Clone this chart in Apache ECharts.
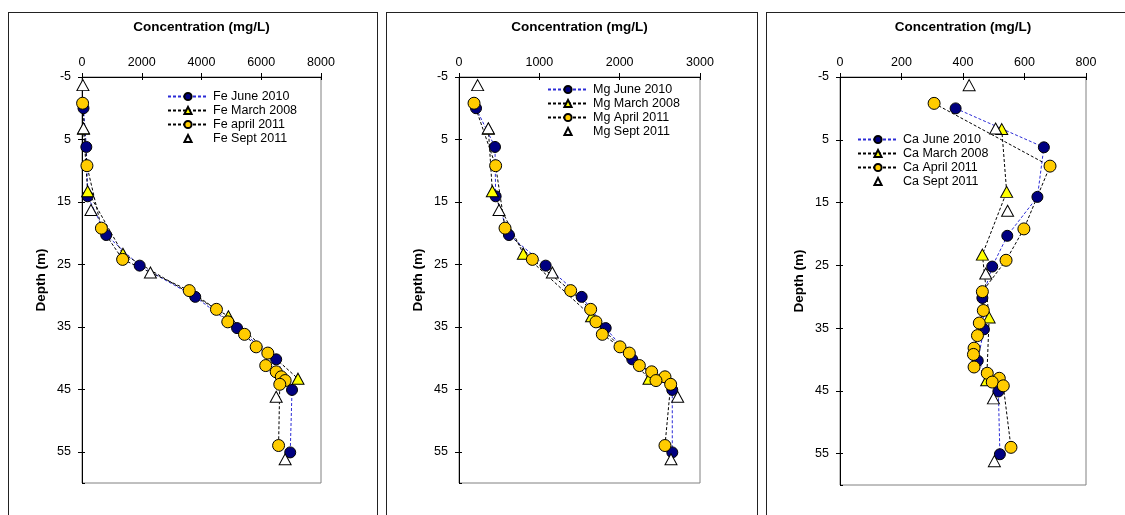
<!DOCTYPE html>
<html>
<head>
<meta charset="utf-8">
<script src="https://cdn.jsdelivr.net/npm/echarts@6/dist/echarts.min.js"></script>
<style>
  html, body { margin: 0; padding: 0; background: #fff; overflow: hidden; }
  #main { position: absolute; left: 0; top: 0; width: 1125px; height: 515px; }
  .frame { position: absolute; top: 12px; height: 530px; border: 1px solid #222; }
</style>
</head>
<body>
<div class="frame" style="left:8px;width:368px"></div>
<div class="frame" style="left:386px;width:370px"></div>
<div class="frame" style="left:766px;width:380px"></div>
<div id="main"></div>
<script>
// depths (m) for each sampling campaign
const depthJune = [0, 6.2, 14.1, 20.3, 25.2, 30.2, 35.2, 40.2, 45.1, 55.1];
const depthMarch = [3.3, 13.3, 23.3, 33.3, 43.3];
const depthApril = [-0.8, 9.2, 19.2, 24.2, 29.2, 32.2, 34.2, 36.2, 38.2, 39.2, 41.2, 42.2, 43.0, 43.6, 44.2, 54.0];
const depthSept = [-3.7, 3.2, 16.3, 26.3, 46.2, 56.2];

// Fe (mg/L)
const feJune = [50, 145, 190, 810, 1930, 3790, 5190, 6500, 7030, 6970];
const feMarch = [50, 190, 1370, 4900, 7230];
const feApril = [20, 165, 650, 1360, 3590, 4500, 4880, 5440, 5830, 6220, 6150, 6500, 6670, 6800, 6620, 6580];
const feSept = [30, 50, 300, 2290, 6500, 6800];

// Mg (mg/L)
const mgJune = [212, 448, 456, 622, 1079, 1527, 1826, 2157, 2655, 2655];
const mgMarch = [365, 415, 801, 1650, 2365];
const mgApril = [187, 456, 573, 913, 1390, 1639, 1705, 1784, 2004, 2120, 2245, 2398, 2564, 2452, 2635, 2564];
const mgSept = [232, 365, 498, 1162, 2722, 2639];

// Ca (mg/L)
const caJune = [376, 663, 642, 544, 495, 463, 468, 448, 515, 520];
const caMarch = [526, 542, 463, 485, 477];
const caApril = [306, 683, 598, 540, 463, 466, 453, 447, 436, 434, 436, 479, 518, 495, 531, 556];
const caSept = [420, 506, 545, 474, 499, 502];

const xMax = [8000, 3000, 800];
const xStep = [2000, 1000, 200];
const depthMin = -5, depthMax = 60, depthStep = 10;

const FONT = "'Liberation Sans', Arial, sans-serif";

function pairs(xs, ys) {
  return xs.map((v, i) => [v, ys[i]]);
}

let myChart = echarts.init(document.getElementById("main"));

const grids = [
  { left: 82, top: 77, width: 239, height: 406 },
  { left: 459, top: 77, width: 241, height: 406 },
  { left: 840, top: 77, width: 246, height: 408 },
];
const legendPos = [
  { left: 167, top: 90 },
  { left: 547, top: 83 },
  { left: 857, top: 133 },
];
const panels = [
  { el: "Fe", june: feJune, march: feMarch, april: feApril, sept: feSept, aprilName: "Fe april 2011" },
  { el: "Mg", june: mgJune, march: mgMarch, april: mgApril, sept: mgSept, aprilName: "Mg April 2011" },
  { el: "Ca", june: caJune, march: caMarch, april: caApril, sept: caSept, aprilName: "Ca April 2011" },
];

let xAxis = [], yAxis = [], series = [], legend = [];

panels.forEach((p, i) => {
  xAxis.push({
    gridIndex: i,
    type: "value",
    position: "top",
    min: 0,
    max: xMax[i],
    interval: xStep[i],
    name: "Concentration (mg/L)",
    nameLocation: "middle",
    nameGap: 43,
    nameTextStyle: { fontFamily: FONT, fontWeight: "bold", fontSize: 13.5, color: "#000" },
    axisLine: { show: true, onZero: false, lineStyle: { color: "#000", width: 1 } },
    axisTick: { show: true, length: 4, lineStyle: { color: "#000" } },
    axisLabel: { fontFamily: FONT, fontSize: 12.5, color: "#000", margin: 8, formatter: (v) => String(v) },
    splitLine: { show: false },
  });
  yAxis.push({
    gridIndex: i,
    type: "value",
    inverse: true,
    min: depthMin,
    max: depthMax,
    interval: depthStep,
    name: "Depth (m)",
    nameLocation: "middle",
    nameGap: 34,
    nameTextStyle: { fontFamily: FONT, fontWeight: "bold", fontSize: 13.5, color: "#000" },
    axisLine: { show: true, onZero: false, lineStyle: { color: "#000", width: 1 } },
    axisTick: { show: true, length: 4, lineStyle: { color: "#000" } },
    axisLabel: { fontFamily: FONT, fontSize: 12.5, color: "#000", margin: 11, showMaxLabel: false },
    splitLine: { show: false },
  });

  const names = [p.el + " June 2010", p.el + " March 2008", p.aprilName, p.el + " Sept 2011"];

  series.push({
    name: names[0],
    type: "line",
    xAxisIndex: i,
    yAxisIndex: i,
    data: pairs(p.june, depthJune),
    symbol: "circle",
    symbolSize: 11,
    lineStyle: { color: "#2b2bd6", width: 1, type: [3, 2] },
    itemStyle: { color: "#000080", borderColor: "#000", borderWidth: 1 },
  });
  series.push({
    name: names[1],
    type: "line",
    xAxisIndex: i,
    yAxisIndex: i,
    data: pairs(p.march, depthMarch),
    symbol: "triangle",
    symbolSize: [12, 11],
    lineStyle: { color: "#000", width: 1, type: [3, 2] },
    itemStyle: { color: "#ffff00", borderColor: "#000", borderWidth: 1 },
  });
  series.push({
    name: names[2],
    type: "line",
    xAxisIndex: i,
    yAxisIndex: i,
    data: pairs(p.april, depthApril),
    symbol: "circle",
    symbolSize: 12,
    lineStyle: { color: "#000", width: 1, type: [3, 2] },
    itemStyle: { color: "#ffcc00", borderColor: "#000", borderWidth: 1 },
  });
  // Sept 2011 has markers only
  series.push({
    name: names[3],
    type: "line",
    xAxisIndex: i,
    yAxisIndex: i,
    data: pairs(p.sept, depthSept),
    symbol: "triangle",
    symbolSize: [12, 11],
    lineStyle: { width: 0, opacity: 0 },
    itemStyle: { color: "#fff", borderColor: "#000", borderWidth: 1 },
  });

  legend.push({
    data: names,
    orient: "vertical",
    left: legendPos[i].left,
    top: legendPos[i].top,
    padding: 0,
    itemWidth: 40,
    itemHeight: 9,
    itemGap: 1,
    selectedMode: false,
    textStyle: { fontFamily: FONT, fontSize: 12.5, color: "#000" },
  });
});

// inner half of the cross tick marks (ticks cross the axis lines)
panels.forEach((p, i) => {
  xAxis.push({
    gridIndex: i, type: "value", position: "top", min: 0, max: xMax[i], interval: xStep[i],
    axisLine: { show: false, onZero: false },
    axisTick: { show: true, inside: true, length: 3, lineStyle: { color: "#000" } },
    axisLabel: { show: false }, splitLine: { show: false },
  });
  yAxis.push({
    gridIndex: i, type: "value", position: "left", inverse: true, min: depthMin, max: depthMax, interval: depthStep,
    axisLine: { show: false, onZero: false },
    axisTick: { show: true, inside: true, length: 3, lineStyle: { color: "#000" } },
    axisLabel: { show: false }, splitLine: { show: false },
  });
});

myChart.setOption({
  animation: false,
  grid: grids.map((g) => Object.assign({ show: true, borderColor: "#808080", borderWidth: 1, backgroundColor: "transparent" }, g)),
  xAxis: xAxis,
  yAxis: yAxis,
  legend: legend,
  series: series,
});
</script>
</body>
</html>
